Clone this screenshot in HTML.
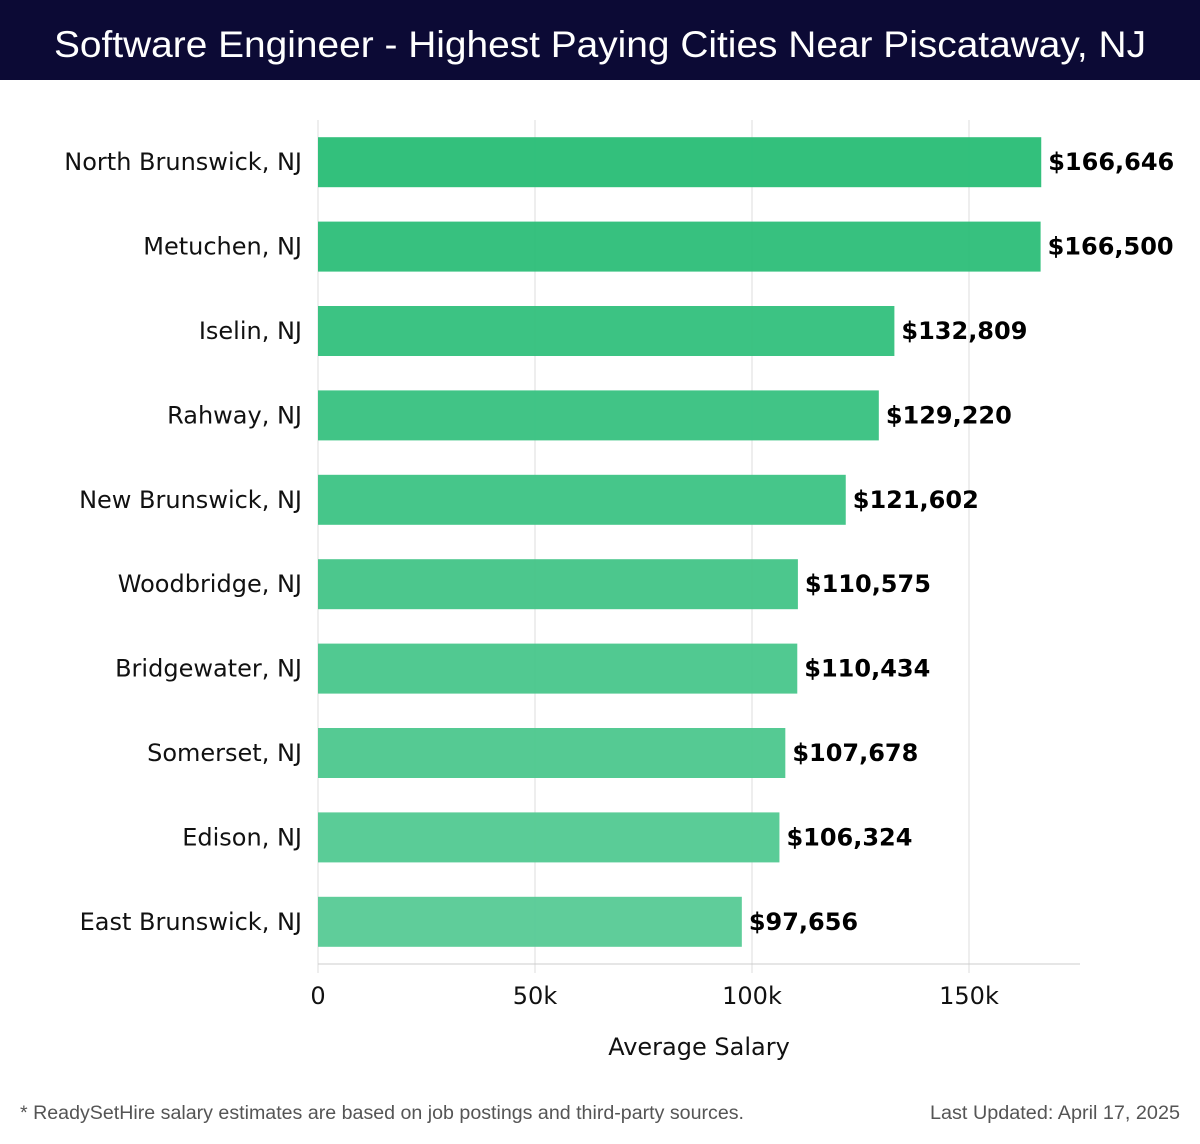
<!DOCTYPE html>
<html><head><meta charset="utf-8"><style>
body{margin:0;width:1200px;height:1140px;background:#fff;overflow:hidden;font-family:"DejaVu Sans","Liberation Sans",sans-serif}
</style></head><body>
<svg width="1200" height="1140" xmlns="http://www.w3.org/2000/svg">
<rect x="0" y="0" width="1200" height="80" fill="#0c0a35"/>
<text x="600" y="57" text-anchor="middle" fill="#fff" font-family="Liberation Sans, sans-serif" font-size="37" font-weight="300" textLength="1092" lengthAdjust="spacingAndGlyphs">Software Engineer - Highest Paying Cities Near Piscataway, NJ</text>
<g id="plot"></g>
<text x="699" y="1055" text-anchor="middle" font-size="24" fill="#111">Average Salary</text>
<text x="20" y="1119" font-size="19" fill="#555" font-family="Liberation Sans, sans-serif" textLength="724" lengthAdjust="spacingAndGlyphs">* ReadySetHire salary estimates are based on job postings and third-party sources.</text>
<text x="930" y="1119" font-size="19" fill="#555" font-family="Liberation Sans, sans-serif" textLength="250" lengthAdjust="spacingAndGlyphs">Last Updated: April 17, 2025</text>
</svg>
<script>
const categories=["North Brunswick, NJ","Metuchen, NJ","Iselin, NJ","Rahway, NJ","New Brunswick, NJ","Woodbridge, NJ","Bridgewater, NJ","Somerset, NJ","Edison, NJ","East Brunswick, NJ"];
const values=[166646,166500,132809,129220,121602,110575,110434,107678,106324,97656];
const ticks=[0,50000,100000,150000];
const tickLabels=["0","50k","100k","150k"];
const NS="http://www.w3.org/2000/svg";
const plotG=document.getElementById('plot');
const x0=318,pxPer=217/50000,plotTop=120,plotBottom=964,band=(plotBottom-plotTop)/categories.length;
const xs=v=>x0+v*pxPer;
const ys=i=>plotTop+band*i+band/2;
function mk(t,a){const e=document.createElementNS(NS,t);for(const k in a)e.setAttribute(k,a[k]);plotG.appendChild(e);return e;}
ticks.forEach((t,i)=>{
  const l=mk('line',{x1:xs(t),x2:xs(t),y1:plotTop,y2:973,stroke:'#ddd','stroke-width':1});
  
  
  const tx=mk('text',{x:xs(t),y:1004,'text-anchor':'middle','font-size':24,fill:'#111'});
  tx.textContent=tickLabels[i];
  
  
});
const ax=mk('line',{x1:x0,x2:1080,y1:plotBottom,y2:plotBottom,stroke:'#ccc','stroke-width':1});


function col(i){const a=[0x2c,0xbe,0x78],b=[0x5a,0xcb,0x97];const f=i/(categories.length-1);return 'rgb('+a.map((c,k)=>Math.round(c+(b[k]-c)*f)).join(',')+')';}
categories.forEach((c,i)=>{
  const r=mk('rect',{x:x0,y:ys(i)-25,width:xs(values[i])-x0,height:50,fill:col(i),'fill-opacity':0.97});
  
  
  const lb=mk('text',{x:302,y:ys(i)+8,'text-anchor':'end','font-size':24,fill:'#111'});
  lb.textContent=c;
  
  
  const vl=mk('text',{x:xs(values[i])+7,y:ys(i)+8,'font-size':24,'font-weight':'bold',fill:'#000'});
  vl.textContent='$'+values[i].toLocaleString('en-US');
  
  
});
</script>
</body></html>
